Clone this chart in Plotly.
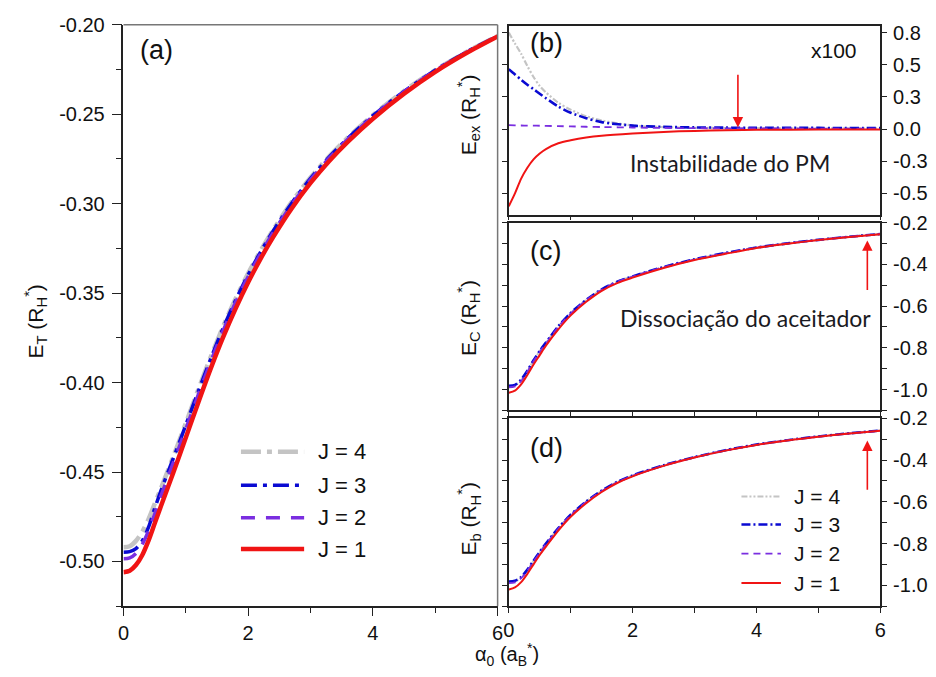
import plotly.graph_objects as go

FONT = "Liberation Sans, Arial, sans-serif"

# ---------------- data ----------------
labels = ["J = 4", "J = 3", "J = 2", "J = 1"]
colors = ["#c4c4c4", "#0a0ad2", "#7a2ee0", "#f01414"]

# panel (a): total energy E_T
alpha_a = [0, 0.1, 0.2, 0.3, 0.4, 0.5, 0.6, 0.8, 1.0, 1.2, 1.4, 1.6, 1.8, 2.0, 2.2, 2.4, 2.7, 3.0, 3.3, 3.6, 4.0, 4.5, 5.0, 5.5, 6.0]
ET_J4 = [-0.492, -0.4915, -0.4885, -0.4835, -0.4765, -0.4678, -0.4592, -0.4413, -0.4227, -0.4039, -0.3856, -0.3685, -0.353, -0.3389, -0.3262, -0.3147, -0.299, -0.2854, -0.2735, -0.263, -0.2505, -0.237, -0.2253, -0.2152, -0.2062]
ET_J3 = [-0.4948, -0.4945, -0.4928, -0.4885, -0.481, -0.4705, -0.4605, -0.4423, -0.4237, -0.4049, -0.3866, -0.3694, -0.3538, -0.3397, -0.3269, -0.3153, -0.2996, -0.2859, -0.2739, -0.2634, -0.2508, -0.2372, -0.2254, -0.2152, -0.2063]
ET_J2 = [-0.4985, -0.498, -0.4955, -0.4905, -0.483, -0.4735, -0.4635, -0.4448, -0.426, -0.4068, -0.3882, -0.3708, -0.355, -0.3408, -0.3279, -0.3162, -0.3004, -0.2866, -0.2745, -0.2639, -0.2512, -0.2375, -0.2256, -0.2154, -0.2064]
ET_J1 = [-0.506, -0.5052, -0.502, -0.4965, -0.4885, -0.4788, -0.4692, -0.4503, -0.4307, -0.4111, -0.3921, -0.3745, -0.3585, -0.3439, -0.3307, -0.3187, -0.3025, -0.2884, -0.2761, -0.2653, -0.2525, -0.2385, -0.2263, -0.2158, -0.2065]

# panel (b): exchange energy E_ex (x100)
alpha_b = [0, 0.1, 0.2, 0.3, 0.4, 0.5, 0.6, 0.8, 1.0, 1.25, 1.5, 2.0, 2.5, 3.0, 3.5, 4.0, 5.0, 6.0]
Eex_J4 = [0.75, 0.665, 0.585, 0.49, 0.405, 0.335, 0.285, 0.205, 0.15, 0.10, 0.067, 0.028, 0.015, 0.010, 0.008, 0.007, 0.006, 0.005]
Eex_J3 = [0.465, 0.425, 0.383, 0.345, 0.31, 0.275, 0.24, 0.175, 0.127, 0.085, 0.054, 0.027, 0.017, 0.013, 0.011, 0.010, 0.009, 0.008]
Eex_J2 = [0.030, 0.029, 0.028, 0.027, 0.027, 0.026, 0.025, 0.023, 0.021, 0.018, 0.016, 0.012, 0.009, 0.007, 0.006, 0.005, 0.004, 0.004]
Eex_J1 = [-0.60, -0.50, -0.385, -0.30, -0.235, -0.19, -0.155, -0.11, -0.087, -0.066, -0.052, -0.035, -0.022, -0.014, -0.009, -0.006, -0.004, -0.003]

# panel (c): E_C
alpha_cd = [0, 0.1, 0.2, 0.3, 0.4, 0.5, 0.6, 0.8, 1.0, 1.25, 1.5, 1.75, 2.0, 2.5, 3.0, 3.5, 4.0, 4.5, 5.0, 5.5, 6.0]
EC_J4 = [-0.985, -0.98, -0.955, -0.912, -0.862, -0.817, -0.777, -0.698, -0.634, -0.572, -0.521, -0.484, -0.458, -0.414, -0.377, -0.347, -0.321, -0.300, -0.283, -0.268, -0.255]
EC_J3 = [-0.982, -0.978, -0.952, -0.91, -0.86, -0.815, -0.775, -0.697, -0.633, -0.571, -0.52, -0.484, -0.458, -0.413, -0.376, -0.346, -0.320, -0.300, -0.283, -0.268, -0.255]
EC_J2 = [-0.99, -0.985, -0.96, -0.915, -0.865, -0.82, -0.78, -0.70, -0.636, -0.573, -0.522, -0.485, -0.459, -0.414, -0.377, -0.347, -0.320, -0.300, -0.283, -0.268, -0.255]
EC_J1 = [-1.015, -1.005, -0.975, -0.93, -0.88, -0.835, -0.79, -0.712, -0.645, -0.58, -0.527, -0.49, -0.464, -0.418, -0.38, -0.35, -0.322, -0.302, -0.284, -0.269, -0.256]

# panel (d): E_b
Eb_J4 = [-0.985, -0.981, -0.962, -0.927, -0.884, -0.842, -0.802, -0.727, -0.663, -0.600, -0.548, -0.506, -0.475, -0.426, -0.387, -0.354, -0.327, -0.305, -0.287, -0.272, -0.259]
Eb_J3 = [-0.982, -0.978, -0.96, -0.925, -0.882, -0.84, -0.80, -0.726, -0.662, -0.599, -0.547, -0.505, -0.474, -0.425, -0.386, -0.353, -0.326, -0.305, -0.287, -0.272, -0.259]
Eb_J2 = [-0.99, -0.986, -0.966, -0.93, -0.887, -0.844, -0.804, -0.729, -0.665, -0.601, -0.549, -0.507, -0.476, -0.426, -0.387, -0.354, -0.327, -0.305, -0.288, -0.273, -0.260]
Eb_J1 = [-1.02, -1.01, -0.985, -0.945, -0.90, -0.855, -0.815, -0.738, -0.672, -0.607, -0.553, -0.51, -0.478, -0.428, -0.388, -0.355, -0.328, -0.306, -0.288, -0.273, -0.260]

# tick values / labels
a_xticks = [0, 2, 4, 6]
a_yticks = [-0.50, -0.45, -0.40, -0.35, -0.30, -0.25, -0.20]
a_yticktext = ["-0.50", "-0.45", "-0.40", "-0.35", "-0.30", "-0.25", "-0.20"]
b_tickvals = [-0.75, -0.5, -0.25, 0.0, 0.25, 0.5, 0.75]
b_ticktext = ["-0.8", "-0.5", "-0.3", "0.0", "0.3", "0.5", "0.8"]
cd_tickvals = [-1.0, -0.8, -0.6, -0.4, -0.2]
cd_ticktext = ["-1.0", "-0.8", "-0.6", "-0.4", "-0.2"]

# ---------------- styles ----------------
dash_thick = ["20px,6px,5px,6px", "16px,6px,4px,6px", "14px,11px", "solid"]
dash_thin = ["6px,2px,2px,2px,2px,2px", "9px,3px,2px,3px", "7px,5px", "solid"]
width_thick = [4.5, 3.5, 3.5, 4.5]
width_thin = [2.2, 2.6, 1.8, 2.0]

fig = go.Figure()

panels = [
    ("x", "y", alpha_a, [ET_J4, ET_J3, ET_J2, ET_J1], dash_thick, width_thick),
    ("x2", "y2", alpha_b, [Eex_J4, Eex_J3, Eex_J2, Eex_J1], dash_thin, width_thin),
    ("x3", "y3", alpha_cd, [EC_J4, EC_J3, EC_J2, EC_J1], dash_thin, width_thin),
    ("x4", "y4", alpha_cd, [Eb_J4, Eb_J3, Eb_J2, Eb_J1], dash_thin, width_thin),
]
for xa, ya, xs, series, dashes, widths in panels:
    for lab, col, ys, dsh, w in zip(labels, colors, series, dashes, widths):
        fig.add_trace(go.Scatter(
            x=xs, y=ys, mode="lines", name=lab, xaxis=xa, yaxis=ya,
            line=dict(color=col, width=w, dash=dsh, shape="spline", smoothing=0.8),
            showlegend=False, hoverinfo="skip"))

W, H = 936, 677
def px_x(p):
    return p / W
def px_y(p):
    return 1 - p / H

dom_ax = [px_x(119), px_x(498)]
dom_bx = [px_x(509.3), px_x(885.7)]
dom_a_y = [px_y(605), px_y(14)]
dom_b_y = [px_y(207), px_y(15)]
dom_c_y = [px_y(406), px_y(215)]
dom_d_y = [px_y(605), px_y(414)]

tickfont = dict(family=FONT, size=20, color="#111")
LC = "#222"

common_x = dict(range=[0, 6], showgrid=False, zeroline=False, showline=True, linecolor=LC, linewidth=1.5,
                ticks="outside", tickcolor=LC, tickwidth=1.2, tickfont=tickfont)
common_y = dict(showgrid=False, zeroline=False, showline=True, linecolor=LC, linewidth=1.5,
                ticks="outside", tickcolor=LC, tickwidth=1.2, tickfont=tickfont)

fig.update_layout(
    width=W, height=H, autosize=False,
    margin=dict(l=0, r=0, t=0, b=0, pad=0),
    paper_bgcolor="white", plot_bgcolor="white",
    font=dict(family=FONT, color="#111"),
    showlegend=False,
    xaxis=dict(common_x, domain=dom_ax, anchor="y", tickvals=a_xticks, ticklen=8,
               minor=dict(tickvals=[1, 3, 5], ticklen=5, ticks="outside", tickcolor=LC)),
    yaxis=dict(common_y, domain=dom_a_y, anchor="x", range=[-0.525, -0.2],
               tickvals=a_yticks, ticktext=a_yticktext, ticklen=10, ticklabelstandoff=3,
               minor=dict(dtick=0.025, tick0=-0.2, ticklen=6, ticks="outside", tickcolor=LC)),
    xaxis2=dict(common_x, domain=dom_bx, anchor="y2", dtick=1, ticklen=4, showticklabels=False, mirror=True),
    yaxis2=dict(common_y, domain=dom_b_y, anchor="x2", side="right", range=[-0.665, 0.803],
                tickvals=b_tickvals, ticktext=b_ticktext, ticklen=5, mirror="ticks", ticklabelstandoff=2),
    xaxis3=dict(common_x, domain=dom_bx, anchor="y3", dtick=1, ticklen=4, showticklabels=False, mirror=True),
    yaxis3=dict(common_y, domain=dom_c_y, anchor="x3", side="right", range=[-1.1, -0.2],
                tickvals=cd_tickvals, ticktext=cd_ticktext, ticklen=5, mirror="ticks", ticklabelstandoff=2,
                minor=dict(tickvals=[-1.1, -0.9, -0.7, -0.5, -0.3], ticklen=5, ticks="outside", tickcolor=LC)),
    xaxis4=dict(common_x, domain=dom_bx, anchor="y4", tickvals=a_xticks, ticklen=5, mirror=True,
                minor=dict(tickvals=[1, 3, 5], ticklen=5, ticks="outside", tickcolor=LC)),
    yaxis4=dict(common_y, domain=dom_d_y, anchor="x4", side="right", range=[-1.1, -0.2],
                tickvals=cd_tickvals, ticktext=cd_ticktext, ticklen=5, mirror="ticks", ticklabelstandoff=2,
                minor=dict(tickvals=[-1.1, -0.9, -0.7, -0.5, -0.3], ticklen=5, ticks="outside", tickcolor=LC)),
)

shapes = []
# gray top/right frame of panel (a)
shapes.append(dict(type="line", xref="paper", yref="paper", x0=dom_ax[0], x1=dom_ax[1], y0=dom_a_y[1], y1=dom_a_y[1],
                   line=dict(color="#777", width=1.5)))
shapes.append(dict(type="line", xref="paper", yref="paper", x0=dom_ax[1], x1=dom_ax[1], y0=dom_a_y[0], y1=dom_a_y[1],
                   line=dict(color="#777", width=1.5)))

annotations = []
# legend (a)
leg_a_rows = [448, 482, 515, 547]
for lab, col, dsh, w, yy in zip(labels, colors, dash_thick, width_thick, leg_a_rows):
    shapes.append(dict(type="line", xref="paper", yref="paper", x0=px_x(238), x1=px_x(302), y0=px_y(yy), y1=px_y(yy),
                       line=dict(color=col, width=w, dash=dsh)))
    annotations.append(dict(xref="paper", yref="paper", x=px_x(314), y=px_y(yy), text=lab, showarrow=False,
                            xanchor="left", yanchor="middle", font=dict(family=FONT, size=22, color="#111")))
# legend (d)
leg_d_rows = [493.5, 522, 551.5, 581.5]
for lab, col, dsh, w, yy in zip(labels, colors, dash_thin, width_thin, leg_d_rows):
    shapes.append(dict(type="line", xref="paper", yref="paper", x0=px_x(745), x1=px_x(785), y0=px_y(yy), y1=px_y(yy),
                       line=dict(color=col, width=w, dash=dsh)))
    annotations.append(dict(xref="paper", yref="paper", x=px_x(796), y=px_y(yy), text=lab, showarrow=False,
                            xanchor="left", yanchor="middle", font=dict(family=FONT, size=21, color="#111")))

# panel labels
for txt, cx, cy in [("(a)", 152, 40), ("(b)", 548, 33), ("(c)", 547, 244), ("(d)", 548, 444)]:
    annotations.append(dict(xref="paper", yref="paper", x=px_x(cx), y=px_y(cy), text=txt, showarrow=False,
                            xanchor="center", yanchor="middle", font=dict(family=FONT, size=27, color="#111")))
annotations.append(dict(xref="paper", yref="paper", x=px_x(839), y=px_y(40), text="x100", showarrow=False,
                        xanchor="center", yanchor="middle", font=dict(family=FONT, size=21, color="#111")))

# axis titles
ytitles = [("E<sub>T</sub> (R<sub>H</sub><sup>*</sup>)", 30, 316),
           ("E<sub>ex</sub> (R<sub>H</sub><sup>*</sup>)", 468, 106),
           ("E<sub>C</sub> (R<sub>H</sub><sup>*</sup>)", 469, 312),
           ("E<sub>b</sub> (R<sub>H</sub><sup>*</sup>)", 469, 516)]
for txt, cx, cy in ytitles:
    annotations.append(dict(xref="paper", yref="paper", x=px_x(cx), y=px_y(cy), text=txt, showarrow=False,
                            textangle=-90, xanchor="center", yanchor="middle",
                            font=dict(family=FONT, size=21, color="#111")))
annotations.append(dict(xref="paper", yref="paper", x=px_x(508), y=px_y(654), text="α<sub>0</sub> (a<sub>B</sub><sup>*</sup>)",
                        showarrow=False, xanchor="center", yanchor="middle", font=dict(family=FONT, size=20, color="#111")))

# notes
NOTE_FONT = dict(family="Lato, Open Sans, sans-serif", size=23, color="#1a1a22")
annotations.append(dict(xref="x2", yref="y2", x=3.57, y=-0.263, text="Instabilidade do PM", showarrow=False,
                        xanchor="center", yanchor="middle", font=NOTE_FONT))
annotations.append(dict(xref="x3", yref="y3", x=3.82, y=-0.656, text="Dissociação do aceitador", showarrow=False,
                        xanchor="center", yanchor="middle", font=NOTE_FONT))

# arrows
RED = "#f01414"
for xr, yr, xh, yh, yt in [("x2", "y2", 3.70, 0.013, 0.433), ("x3", "y3", 5.79, -0.286, -0.530), ("x4", "y4", 5.79, -0.307, -0.550)]:
    annotations.append(dict(xref=xr, yref=yr, x=xh, y=yh, ax=xh, ay=yt, axref=xr, ayref=yr, text="",
                            showarrow=True, arrowhead=2, arrowsize=1.3, arrowwidth=1.6, arrowcolor=RED))

fig.update_layout(shapes=shapes, annotations=annotations)
fig.write_html("out.html")
